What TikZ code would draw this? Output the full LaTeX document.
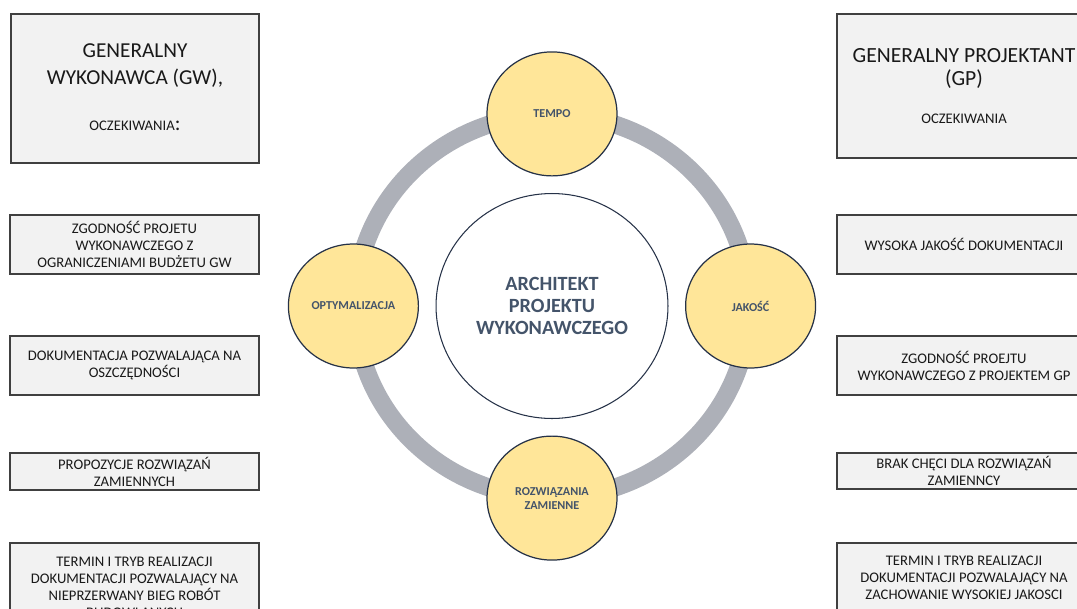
\documentclass[tikz,border=0pt]{standalone}
\usepackage{fontspec}
\setmainfont{Carlito}
\usetikzlibrary{positioning, shapes.geometric, backgrounds}
\definecolor{boxfill}{RGB}{242,242,242}
\definecolor{boxline}{RGB}{64,64,64}
\definecolor{slate}{RGB}{68,84,106}
\definecolor{navy}{RGB}{38,50,72}
\definecolor{gold}{RGB}{255,230,153}
\definecolor{ringgray}{RGB}{173,176,184}
\newcommand{\smalltxt}{\fontsize{8.35}{9.7}\selectfont}

\begin{document}
\begin{tikzpicture}[
    x=0.02cm, y=-0.02cm,
    node distance=0.33cm,
    head/.style={draw=boxline, fill=boxfill, line width=0.7pt, align=center,
                 text=black!90, inner sep=0pt},
    need/.style={draw=boxline, fill=boxfill, line width=0.7pt, align=center,
                 text=black!90, inner sep=0pt, font=\smalltxt},
    hub/.style={ellipse, draw=navy, fill=white, line width=0.6pt, minimum width=4.64cm,
                minimum height=4.5cm, align=center, text=slate,
                font=\fontsize{11.5}{12.4}\selectfont\bfseries},
    goal/.style={ellipse, draw=navy, fill=gold, line width=0.7pt, minimum width=2.6cm,
                 minimum height=2.48cm, align=center, text=slate, inner sep=0pt,
                 font=\fontsize{6.9}{8}\selectfont\bfseries},
    ring/.style={draw=ringgray, line width=0.36cm},
]
\useasboundingbox (0,0) rectangle (1077,608);
\clip (0,0) rectangle (1077,608);

% wykonawca
\node[head, minimum width=4.96cm, minimum height=2.98cm, text depth=0.06cm,
      font=\fontsize{12.1}{15.3}\selectfont] (gw) at (135,88.5)
    {GENERALNY\\WYKONAWCA (GW),\\[10.7pt]{\smalltxt OCZEKIWANIA}:};
\node[need, minimum width=4.98cm, minimum height=1.18cm] (gw1) at (134.5,244.5)
    {ZGODNOŚĆ PROJETU\\WYKONAWCZEGO Z\\OGRANICZENIAMI BUDŻETU GW};
\node[need, minimum width=4.98cm, minimum height=1.18cm] (gw2) at (134.5,365.5)
    {DOKUMENTACJA POZWALAJĄCA NA\\OSZCZĘDNOŚCI};
\node[need, minimum width=4.98cm, minimum height=0.74cm] (gw3) at (134.5,471.5)
    {PROPOZYCJE ROZWIĄZAŃ\\ZAMIENNYCH};
\node[need, minimum width=4.98cm, minimum height=1.76cm] (gw4) at (134.5,587)
    {TERMIN I TRYB REALIZACJI\\DOKUMENTACJI POZWALAJĄCY NA\\NIEPRZERWANY BIEG ROBÓT\\BUDOWLANYCH};

% projektant
\node[head, minimum width=5.08cm, minimum height=2.88cm,
      font=\fontsize{12.3}{13.4}\selectfont] (gp) at (964,86)
    {GENERALNY PROJEKTANT\\(GP)\\[8.1pt]{\smalltxt OCZEKIWANIA}};
\node[need, minimum width=5.08cm, minimum height=1.18cm] (gp1) at (964,244.5)
    {WYSOKA JAKOŚĆ DOKUMENTACJI};
\node[need, minimum width=5.08cm, minimum height=1.18cm] (gp2) at (964,365.5)
    {ZGODNOŚĆ PROEJTU\\WYKONAWCZEGO Z PROJEKTEM GP};
\node[need, minimum width=5.08cm, minimum height=0.72cm] (gp3) at (964,471)
    {BRAK CHĘCI DLA ROZWIĄZAŃ\\ZAMIENNCY};
\node[need, minimum width=5.08cm, minimum height=1.4cm] (gp4) at (964,578)
    {TERMIN I TRYB REALIZACJI\\DOKUMENTACJI POZWALAJĄCY NA\\ZACHOWANIE WYSOKIEJ JAKOSCI};

% architekt i cykl
\node[hub] (arch) at (552,306) {ARCHITEKT\\PROJEKTU\\WYKONAWCZEGO};
\node[goal, above=of arch] (tempo) {TEMPO};
\node[goal, right=of arch] (jakosc) {JAKOŚĆ};
\node[goal, below=of arch] (zam) {ROZWIĄZANIA\\ZAMIENNE};
\node[goal, left=of arch] (opt) {OPTYMALIZACJA};

\begin{scope}[on background layer]
\draw[ring] (arch) ellipse (3.94cm and 3.83cm);
\end{scope}

\end{tikzpicture}
\end{document}
